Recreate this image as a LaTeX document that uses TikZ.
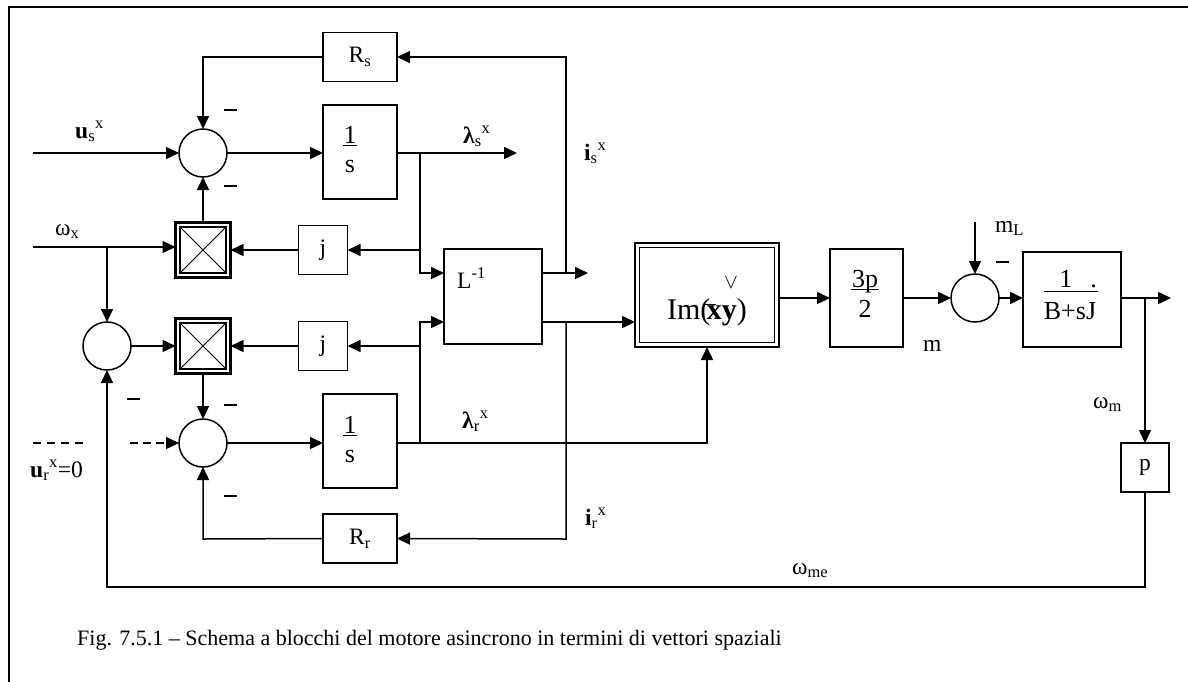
\documentclass[tikz,border=0pt]{standalone}
\usepackage{fontspec}
\setmainfont{Liberation Serif}
\usetikzlibrary{arrows.meta,calc}
\begin{document}
\begin{tikzpicture}[x=1pt,y=-1pt,
  ln/.style={line width=1.5pt},
  arr/.style={line width=1.5pt,-{Triangle[length=13pt,width=12pt]}},
  sum/.style={circle,draw,line width=1.5pt,minimum size=48pt,inner sep=0pt,outer sep=0pt},
  blk/.style={draw,line width=1.5pt,inner sep=0pt,outer sep=0pt},
  lbl/.style={font=\fontsize{23.5}{28}\selectfont,inner sep=0pt},
  big/.style={font=\fontsize{26}{31}\selectfont,inner sep=0pt},
  dbl/.style={draw,line width=2.4pt,inner sep=0pt,outer sep=0pt,
    path picture={
      \draw[line width=1.6pt] ($(path picture bounding box.north west)+(4.5,4.5)$) rectangle ($(path picture bounding box.south east)+(-4.5,-4.5)$);}},
  mult/.style={draw,line width=2.4pt,minimum size=55pt,inner sep=0pt,outer sep=0pt,
    path picture={
      \draw[line width=1.6pt] ($(path picture bounding box.north west)+(4.5,4.5)$) rectangle ($(path picture bounding box.south east)+(-4.5,-4.5)$);
      \draw[line width=1pt] ($(path picture bounding box.north west)+(4.5,4.5)$) -- ($(path picture bounding box.south east)+(-4.5,-4.5)$);
      \draw[line width=1pt] ($(path picture bounding box.north east)+(-4.5,4.5)$) -- ($(path picture bounding box.south west)+(4.5,-4.5)$);}},
  minus/.style={inner sep=0pt}
]
\useasboundingbox (0,0) rectangle (1188,681);
\clip (0,0) rectangle (1188,681);
\draw[line width=2pt] (9,7) rectangle (1200,700);

% summing junctions
\node[sum] (s1) at (203,153) {};
\node[sum] (s2) at (203,443) {};
\node[sum] (s3) at (107,346) {};
\node[sum] (s4) at (975,298) {};
% multipliers
\node[mult] (m1) at (203,250) {};
\node[mult] (m2) at (203,346) {};
% blocks
\node[blk,lbl,minimum width=74pt,minimum height=49pt] (rs) at (360,57) {R\textsubscript{s}};
\node[blk,minimum width=74pt,minimum height=94pt] (i1) at (360,152) {};
\node[blk,lbl,minimum size=49pt] (j1) at (323,250) {j};
\node[blk,lbl,minimum size=49pt] (j2) at (323,346) {j};
\node[blk,minimum width=98pt,minimum height=95pt] (li) at (493,296.5) {};
\node[dbl,minimum width=144pt,minimum height=104pt] (im) at (707,295) {};
\node[blk,minimum width=73pt,minimum height=98pt] (k) at (866.5,298) {};
\node[blk,minimum width=98pt,minimum height=95pt] (bj) at (1072,299.5) {};
\node[blk,lbl,minimum width=48pt,minimum height=49pt] (p) at (1145,467.5) {p};
\node[blk,minimum width=74pt,minimum height=94pt] (i2) at (360,441) {};
\node[blk,lbl,minimum width=74pt,minimum height=49pt] (rr) at (360,538.5) {R\textsubscript{r}};

% block texts
\node[big,anchor=base] (i1a) at (350,143) {1};
\draw[line width=1.2pt] (343,145.5) -- (357,145.5);
\node[big,anchor=base] (i1b) at (350,172) {s};
\node[big,anchor=base] (i2a) at (350,433) {1};
\draw[line width=1.2pt] (343,435.5) -- (357,435.5);
\node[big,anchor=base] (i2b) at (350,462) {s};
\node[lbl,anchor=base west] (lit) at (457,288) {L\textsuperscript{-1}};
\node[font=\fontsize{30}{36}\selectfont,inner sep=0pt,anchor=base] (imt) at (707,319) {Im(\kern-.12em\textbf{x}\textbf{y})};
\draw[line width=1pt] (704,304) -- (716,304);
\node[inner sep=0pt,font=\fontsize{20}{24}\selectfont] (chk) at (731,283) {$\vee$};
\node[big,anchor=base] (kt1) at (865,287) {3p};
\draw[line width=1.2pt] (851,289.5) -- (879,289.5);
\node[big,anchor=base] (kt2) at (865,317) {2};
\node[big,anchor=base] (bt1) at (1078,287) {1\hspace{18pt}.};
\draw[line width=1.2pt] (1044,291.5) -- (1098,291.5);
\node[big,anchor=base] (bt2) at (1070,319) {B+sJ};

% coordinates
\coordinate (us) at (33,153);
\coordinate (ls) at (517,153);
\coordinate (bs) at (420,153);
\coordinate (lu) at (420,273);
\coordinate (ld) at (420,322);
\coordinate (br) at (420,443);
\coordinate (ox) at (33,247);
\coordinate (bo) at (107,247);
\coordinate (is) at (566,57);
\coordinate (iso) at (588,273);
\coordinate (ir) at (566,539);
\coordinate (ml) at (975,222);
\coordinate (wm) at (1171,298);
\coordinate (me) at (1145,587);
\coordinate (me2) at (107,587);
\coordinate (ur0) at (130,443);
\coordinate (ts) at (203,57);
\coordinate (tr) at (203,539);
\coordinate (dl1) at (33,443);
\coordinate (dl2) at (84,443);

% connectors
\draw[arr] (us) -- (s1.west);
\draw[arr] (rs.west) -- (ts) -- (s1.north);
\draw[arr] (s1.east) -- (s1.east -| i1.west);
\draw[arr] (s1 -| i1.east) -- (ls);
\draw[arr] (bs) -- (lu) -- (lu -| li.west);
\draw[arr] (bs |- j1) -- (j1.east);
\draw[arr] (j1.west) -- (m1.east);
\draw[arr] (ox) -- (ox -| m1.west);
\draw[arr] (bo) -- (s3.north);
\draw[arr] (m1.north) -- (s1.south);
\draw[arr] (s3.east) -- (m2.west);
\draw[arr] (br |- j2) -- (j2.east);
\draw[arr] (j2.west) -- (m2.east);
\draw[arr] (m2.south) -- (s2.north);
\draw[arr,dash pattern=on 8pt off 5pt] (ur0) -- (s2.west);
\draw[ln,dash pattern=on 8pt off 6pt] (dl1) -- (dl2);
\draw[arr] (s2.east) -- (s2.east -| i2.west);
\draw[arr] (s2 -| i2.east) -- (im.south |- s2) -- (im.south);
\draw[ln] (bs |- j1) -- (bs);
\draw[arr] (br) -- (ld) -- (ld -| li.west);
\draw[arr] (lu -| li.east) -- (iso);
\draw[arr] (is |- iso) -- (is) -- (rs.east);
\draw[arr] (ld -| li.east) -- (ld -| im.west);
\draw[arr] (ir |- ld) -- (ir) -- (rr.east);
\draw[arr] (rr.west) -- (tr) -- (s2.south);
\draw[arr] (im.east |- k) -- (k.west);
\draw[arr] (k.east) -- (s4.west);
\draw[arr] (ml) -- (s4.north);
\draw[arr] (s4.east) -- (s4.east -| bj.west);
\draw[arr] (bj.east |- s4) -- (wm);
\draw[arr] (wm -| p) -- (p.north);
\draw[arr] (p.south) -- (me) -- (me2) -- (s3.south);

% minus signs
\node[minus] (n1) at (230,110) {\rule{13pt}{1.4pt}};
\node[minus] (n2) at (230,186) {\rule{13pt}{1.4pt}};
\node[minus] (n3) at (133,399) {\rule{13pt}{1.4pt}};
\node[minus] (n4) at (230,405) {\rule{13pt}{1.4pt}};
\node[minus] (n5) at (230,496) {\rule{13pt}{1.4pt}};
\node[minus] (n6) at (1002,262) {\rule{13pt}{1.4pt}};

% signal labels
\node[lbl,anchor=base west] (tus) at (75,138) {\textbf{u}\textsubscript{s}\textsuperscript{x}};
\node[lbl,anchor=base west] (tls) at (463,143) {\textbf{λ}\textsubscript{s}\textsuperscript{x}};
\node[lbl,anchor=base west] (tis) at (584,160) {\textbf{i}\textsubscript{s}\textsuperscript{x}};
\node[lbl,anchor=base west] (tox) at (55,235) {ω\textsubscript{x}};
\node[lbl,anchor=base west] (tml) at (995,232) {m\textsubscript{L}};
\node[lbl,anchor=base west] (tm) at (923,351) {m};
\node[lbl,anchor=base west] (twm) at (1093,408) {ω\textsubscript{m}};
\node[lbl,anchor=base west] (twme) at (792,574) {ω\textsubscript{me}};
\node[lbl,anchor=base west] (tlr) at (462,428) {\textbf{λ}\textsubscript{r}\textsuperscript{x}};
\node[lbl,anchor=base west] (tir) at (585,525) {\textbf{i}\textsubscript{r}\textsuperscript{x}};
\node[lbl,anchor=base west] (tur) at (30,477) {\textbf{u}\textsubscript{r}\textsuperscript{x}=0};

% caption
\node[font=\fontsize{22}{26}\selectfont,inner sep=0pt,anchor=base west] (cap) at (77,645) {Fig. 7.5.1 – Schema a blocchi del motore asincrono in termini di vettori spaziali};
\end{tikzpicture}
\end{document}
